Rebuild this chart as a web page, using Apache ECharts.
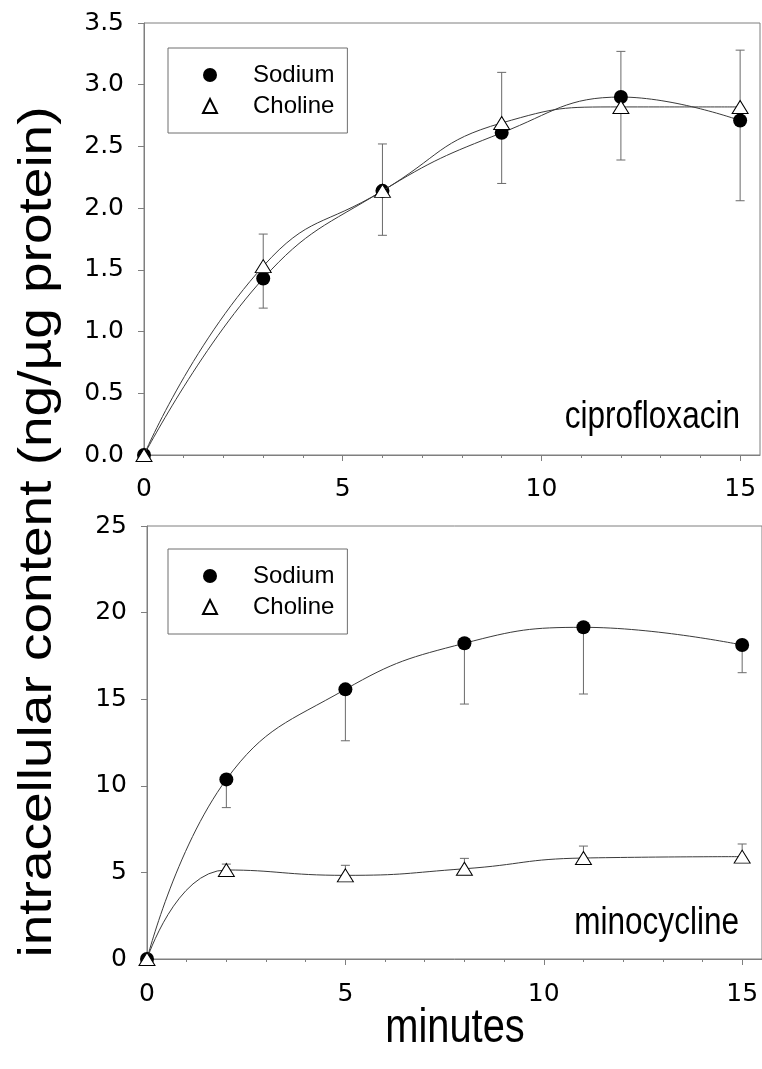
<!DOCTYPE html>
<html><head><meta charset="utf-8">
<script src="https://cdn.jsdelivr.net/npm/echarts@6/dist/echarts.min.js"></script>
<style>html,body{margin:0;padding:0;background:#fff}#c{width:762px;height:1069px}</style>
</head><body><div id="c"></div>
<script>
// ---- data ----
const cipMinutes = [0, 3, 6, 9, 12, 15];
const cipSodium = [0, 1.43, 2.14, 2.61, 2.90, 2.71];
const cipSodiumSD = [0, 0.24, 0.36, 0.41, 0.51, 0.65];
const cipCholine = [0, 1.53, 2.14, 2.69, 2.82, 2.82];
const cipCholineSD = [0, 0.26, 0.38, 0.41, 0.45, 0.46];

const minoMinutes = [0, 2, 5, 8, 11, 15];
const minoSodium = [0, 10.37, 15.57, 18.23, 19.15, 18.13];
const minoSodiumSD = [0, 1.63, 2.97, 3.51, 3.85, 1.60];
const minoCholine = [0, 5.14, 4.83, 5.21, 5.83, 5.91];
const minoCholineSD = [0, 0.34, 0.58, 0.60, 0.69, 0.73];

const xTickValues = [0, 5, 10, 15];
const xMinorTickValues = [1, 2, 3, 4, 6, 7, 8, 9, 11, 12, 13, 14];
const cipYTicks = [0, 0.5, 1.0, 1.5, 2.0, 2.5, 3.0, 3.5];
const minoYTicks = [0, 5, 10, 15, 20, 25];
const seriesNames = ['Sodium', 'Choline'];
const panelNames = ['ciprofloxacin', 'minocycline'];
const xTitle = 'minutes';
const yTitle = 'intracellular content (ng/µg protein)';

// ---- styling ----
const FONT = "'Liberation Sans', Arial, sans-serif";
const TICKFONT = "'DejaVu Sans', 'Liberation Sans', sans-serif";
const AX = '#7f7f7f';
const SQ = 0.83; // horizontal squeeze of the large titles

function pts(xs, ys, es) { return xs.map((x, i) => [x, ys[i], es ? es[i] : 0]); }

function errBar(dir) {
  return function (params, api) {
    const x = api.value(0), y = api.value(1), e = api.value(2);
    if (!e) return null;
    const p0 = api.coord([x, y]);
    const p1 = api.coord([x, y + dir * e]);
    const hw = 4.5;
    return {
      type: 'group', children: [
        { type: 'line', shape: { x1: p0[0], y1: p0[1], x2: p1[0], y2: p1[1] }, style: { stroke: '#6a6a6a', lineWidth: 1 } },
        { type: 'line', shape: { x1: p1[0] - hw, y1: p1[1], x2: p1[0] + hw, y2: p1[1] }, style: { stroke: '#6a6a6a', lineWidth: 1 } }
      ]
    };
  };
}

function xAxesFor(gridIndex, labelMargin) {
  return [{
    type: 'value', gridIndex, min: 0, max: 15.5,
    axisLine: { show: true, onZero: false, lineStyle: { color: AX, width: 1 } },
    axisTick: { show: true, inside: false, length: 6, customValues: xTickValues, lineStyle: { color: AX } },
    axisLabel: { show: true, customValues: xTickValues, margin: labelMargin, fontSize: 25, color: '#000', fontFamily: TICKFONT },
    splitLine: { show: false }
  }, {
    type: 'value', gridIndex, min: 0, max: 15.5, position: 'bottom',
    axisLine: { show: false },
    axisTick: { show: true, inside: false, length: 3, customValues: xMinorTickValues, lineStyle: { color: AX } },
    axisLabel: { show: false },
    splitLine: { show: false }
  }];
}

function yAxisFor(gridIndex, ticks, decimals) {
  return {
    type: 'value', gridIndex, min: ticks[0], max: ticks[ticks.length - 1], interval: ticks[1] - ticks[0],
    axisLine: { show: true, onZero: false, lineStyle: { color: AX, width: 1 } },
    axisTick: { show: true, inside: false, length: 6, lineStyle: { color: AX } },
    axisLabel: { margin: 20, fontSize: 25, color: '#000', fontFamily: TICKFONT, formatter: v => v.toFixed(decimals) },
    splitLine: { show: false }
  };
}

function panelSeries(xIdx, yIdx, xs, sod, sodSD, cho, choSD) {
  return [
    { type: 'custom', xAxisIndex: xIdx, yAxisIndex: yIdx, renderItem: errBar(-1), data: pts(xs, sod, sodSD), z: 1, silent: true },
    { type: 'custom', xAxisIndex: xIdx, yAxisIndex: yIdx, renderItem: errBar(1), data: pts(xs, cho, choSD), z: 1, silent: true },
    {
      name: seriesNames[0], type: 'line', xAxisIndex: xIdx, yAxisIndex: yIdx, data: pts(xs, sod),
      smooth: 0.45, symbol: 'circle', symbolSize: 14, z: 3,
      lineStyle: { color: '#3a3a3a', width: 1 },
      itemStyle: { color: '#000', borderColor: '#000', borderWidth: 0 }
    },
    {
      name: seriesNames[1], type: 'line', xAxisIndex: xIdx, yAxisIndex: yIdx, data: pts(xs, cho),
      smooth: 0.5, symbol: 'triangle', symbolSize: [16, 13], z: 4,
      lineStyle: { color: '#3a3a3a', width: 1 },
      itemStyle: { color: '#fff', borderColor: '#000', borderWidth: 1 }
    }
  ];
}

function legendFor(top) {
  return {
    left: 168, top, orient: 'vertical', selectedMode: false,
    data: [{ name: seriesNames[0], icon: 'circle' }, { name: seriesNames[1], icon: 'triangle' }],
    itemWidth: 14, itemHeight: 14, itemGap: 7,
    padding: [15, 13, 15, 34],
    borderColor: '#6f6f6f', borderWidth: 1, backgroundColor: '#fff',
    textStyle: { fontSize: 24, color: '#000', fontFamily: FONT, padding: [0, 0, 0, 31] }
  };
}

const chart = echarts.init(document.getElementById('c'), null, { renderer: 'canvas' });
chart.setOption({
  animation: false,
  backgroundColor: '#fff',
  grid: [
    { left: 144, top: 23, width: 616, height: 432, show: true, borderColor: AX, borderWidth: 1, backgroundColor: 'transparent' },
    { left: 147, top: 526, width: 615, height: 433, show: true, borderColor: AX, borderWidth: 1, backgroundColor: 'transparent' }
  ],
  xAxis: [...xAxesFor(0, 22), ...xAxesFor(1, 23)],
  yAxis: [yAxisFor(0, cipYTicks, 1), yAxisFor(1, minoYTicks, 0)],
  legend: [legendFor(48), legendFor(549)],
  series: [
    ...panelSeries(0, 0, cipMinutes, cipSodium, cipSodiumSD, cipCholine, cipCholineSD),
    ...panelSeries(2, 1, minoMinutes, minoSodium, minoSodiumSD, minoCholine, minoCholineSD)
  ],
  graphic: [
    { type: 'text', x: 740, y: 418, scaleX: SQ, style: { text: panelNames[0], font: '38px ' + FONT, fill: '#000', align: 'right', verticalAlign: 'middle' } },
    { type: 'text', x: 739, y: 924, scaleX: SQ, style: { text: panelNames[1], font: '38px ' + FONT, fill: '#000', align: 'right', verticalAlign: 'middle' } },
    { type: 'text', x: 455, y: 1029, scaleX: SQ, style: { text: xTitle, font: '48px ' + FONT, fill: '#000', align: 'center', verticalAlign: 'middle' } },
    { type: 'text', x: 38, y: 532, rotation: Math.PI / 2, scaleY: SQ, style: { text: yTitle, font: '55px ' + FONT, fill: '#000', align: 'center', verticalAlign: 'middle' } }
  ]
});
</script></body></html>
